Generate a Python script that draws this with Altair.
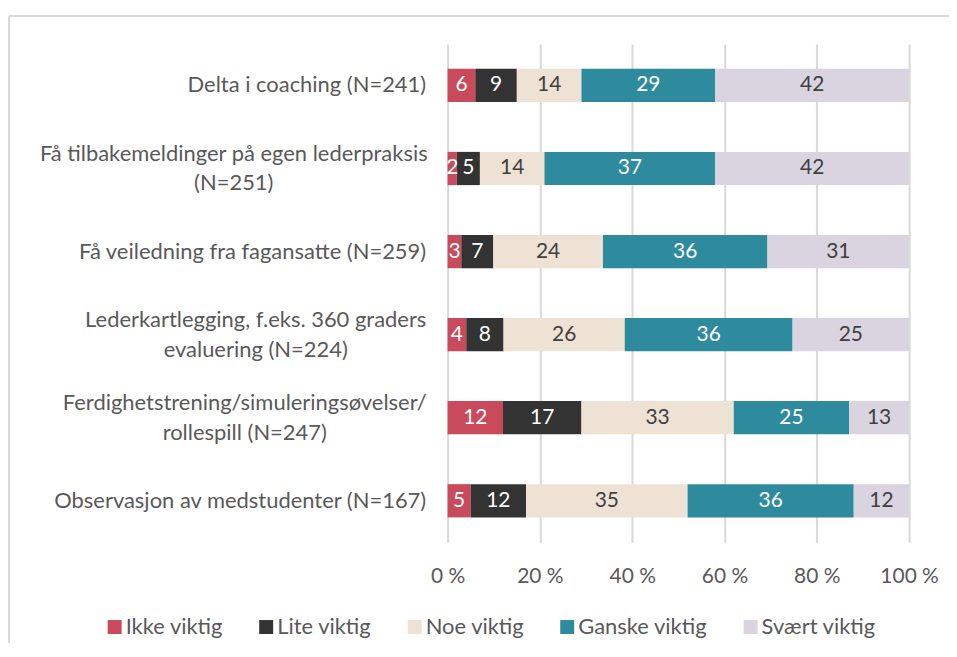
import altair as alt
import pandas as pd

categories = [
    "Delta i coaching (N=241)",
    "Få tilbakemeldinger på egen lederpraksis|(N=251)",
    "Få veiledning fra fagansatte (N=259)",
    "Lederkartlegging, f.eks. 360 graders|evaluering (N=224)",
    "Ferdighetstrening/simuleringsøvelser/|rollespill (N=247)",
    "Observasjon av medstudenter (N=167)",
]
levels = ["Ikke viktig", "Lite viktig", "Noe viktig", "Ganske viktig", "Svært viktig"]
ikke_viktig = [6, 2, 3, 4, 12, 5]
lite_viktig = [9, 5, 7, 8, 17, 12]
noe_viktig = [14, 14, 24, 26, 33, 35]
ganske_viktig = [29, 37, 36, 36, 25, 36]
svaert_viktig = [42, 42, 31, 25, 13, 12]
series = [ikke_viktig, lite_viktig, noe_viktig, ganske_viktig, svaert_viktig]
colors = ["#C94A5A", "#333333", "#EDE2D4", "#2E8B9E", "#DAD3E0"]
text_colors = ["#FFFFFF", "#FFFFFF", "#404040", "#FFFFFF", "#404040"]
ticks = [0, 0.2, 0.4, 0.6, 0.8, 1.0]

rows = []
for ci, cat in enumerate(categories):
    for li, lev in enumerate(levels):
        rows.append({"category": cat, "level": lev, "order": li,
                     "value": series[li][ci], "tcolor": text_colors[li]})
df = pd.DataFrame(rows)

FONT = "Lato"
W, H = 463, 500
PAD = 22
# multi-line labels: centred block, right edge of first line at the normal label edge
multi_pad = {categories[1]: 215, categories[3]: 193, categories[4]: 204}

pad_cond = {"condition": [{"test": f"datum.value === '{k}'", "value": v}
                          for k, v in multi_pad.items()],
            "value": PAD}
align_cond = {"condition": {"test": "indexof(datum.value, '|') >= 0", "value": "center"},
              "value": "right"}
offset_cond = {"condition": {"test": "indexof(datum.value, '|') >= 0", "value": -15},
               "value": 0}

base = alt.Chart(df).transform_stack(
    stack="value", as_=["x0", "x1"], groupby=["category"],
    sort=[alt.SortField("order")], offset="normalize"
).transform_calculate(mid="(datum.x0 + datum.x1) / 2")

y_enc = alt.Y("category:N", sort=categories,
              scale=alt.Scale(paddingInner=0.6, paddingOuter=0.3),
              axis=alt.Axis(title=None, domain=False, ticks=False,
                            labelExpr="split(datum.label, '|')",
                            labelPadding=pad_cond, labelAlign=align_cond,
                            labelOffset=offset_cond,
                            labelLimit=700,
                            labelLineHeight=30, labelFontSize=22,
                            labelColor="#595959", labelFont=FONT))

bars = base.mark_bar().encode(
    x=alt.X("x0:Q", scale=alt.Scale(domain=[0, 1], nice=False),
            axis=alt.Axis(title=None, values=ticks, domain=False, ticks=False,
                          grid=True, gridColor="#D9D9D9", gridWidth=2,
                          labelFlush=False,
                          labelExpr="format(datum.value * 100, 'd') + ' %'",
                          labelPadding=23, labelFontSize=21,
                          labelColor="#595959", labelFont=FONT)),
    x2="x1:Q",
    y=y_enc,
    color=alt.Color("level:N", scale=alt.Scale(domain=levels, range=colors),
                    legend=alt.Legend(title=None, orient="none", direction="horizontal",
                                      legendX=-345, legendY=574,
                                      symbolType="square", symbolSize=196,
                                      symbolStrokeWidth=0,
                                      labelFontSize=22, labelColor="#595959",
                                      labelFont=FONT, columnPadding=32,
                                      labelOffset=0)),
    order=alt.Order("order:Q"),
)

labels = base.mark_text(font=FONT, fontSize=21, baseline="middle").encode(
    x="mid:Q",
    y=alt.Y("category:N", sort=categories),
    text="value:Q",
    color=alt.Color("tcolor:N", scale=None),
)

frame_df = pd.DataFrame({"k": [0]})
frame_top = alt.Chart(frame_df).mark_rule(color="#D9D9D9", strokeWidth=2).encode(
    x=alt.value(-440), x2=alt.value(W + 60), y=alt.value(-28))
frame_left = alt.Chart(frame_df).mark_rule(color="#D9D9D9", strokeWidth=2).encode(
    x=alt.value(-440), y=alt.value(-28), y2=alt.value(H + 120))

chart = alt.layer(frame_top, frame_left, bars, labels).properties(
    width=W, height=H,
    autosize=alt.AutoSizeParams(type="none"),
    padding={"left": 441, "top": 35, "right": 40, "bottom": 100},
).configure_view(stroke=None)

chart.save("out.html", embed_options={"renderer": "svg", "actions": False})
